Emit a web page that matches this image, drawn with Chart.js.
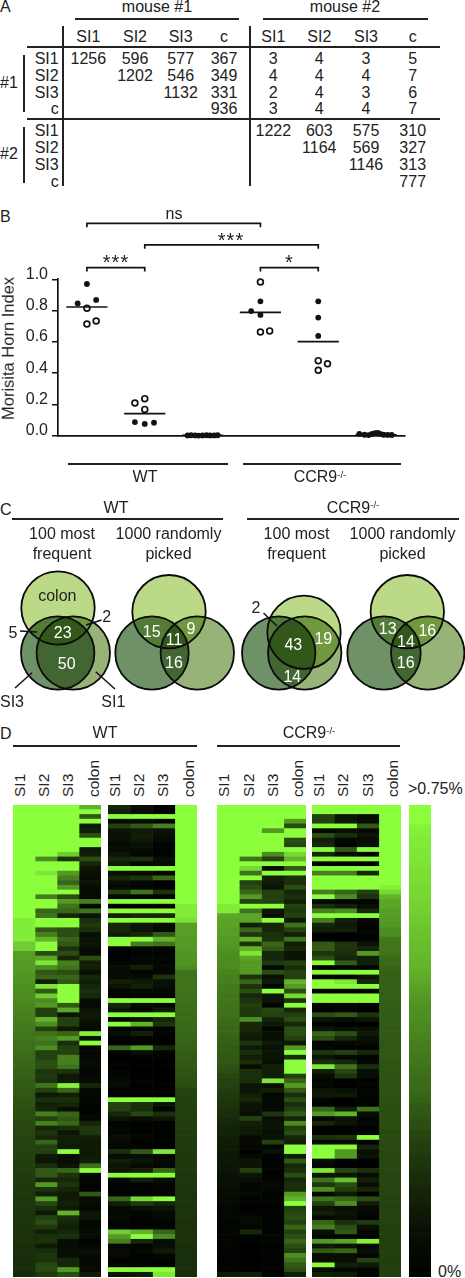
<!DOCTYPE html>
<html><head><meta charset="utf-8">
<script src="https://cdn.jsdelivr.net/npm/chart.js@4"></script>
<style>
html,body{margin:0;padding:0;background:#fff}
#page{position:relative;width:465px;height:1278px;overflow:hidden;font-family:"Liberation Sans",Arial,sans-serif;color:#222}
#page canvas{position:absolute}
.t{position:absolute;white-space:nowrap;line-height:1}
.r{position:absolute;background:#222}
sup{font-size:60%;line-height:0;vertical-align:baseline;position:relative;top:-.45em}
</style></head><body><div id="page"></div>
<script>
/* ---------- Panel A: table ---------- */
const tableCols=['SI1','SI2','SI3','c'];
const m1m1=[['1256','596','577','367'],['','1202','546','349'],['','','1132','331'],['','','','936']];
const m1m2=[['3','4','3','5'],['4','4','4','7'],['2','4','3','6'],['3','4','4','7']];
const m2m2=[['1222','603','575','310'],['','1164','569','327'],['','','1146','313'],['','','','777']];

/* ---------- Panel B: Morisita Horn ---------- */
const bLabels=['SI-SI','SI-c','#1- #2','SI-SI','SI-c','#1- #2'];
const bFilledX=[0,-.16,.16,.83,1,1.16,3,2.84,3,4,4,4,1.74,1.8,1.87,1.93,2,2.07,2.13,2.2,2.26,4.71,4.8,4.87,4.93,4.98,5.03,5.07,5.13,5.2,5.27];
const bFilledY=[.97,.846,.868,.087,.075,.083,.859,.797,.772,.859,.755,.638,.002,.003,.002,.001,.002,.003,.002,.002,.003,.012,.006,.004,.012,.016,.018,.012,.006,.005,.005];
const bOpenX=[0,0,.16,.83,1,1,3,3,3.16,4,4.16,4];
const bOpenY=[.815,.714,.733,.209,.237,.168,.983,.663,.67,.48,.46,.418];
const bMeans=[.823,.141,.003,.789,.601,.006];
const bBrackets=[[0,3,1.358],[1,4,1.22],[0,1,1.075],[3,4,1.075]];

/* ---------- Panel C: Venn counts ---------- */
const vennCircles=[[58,608],[57.7,653],[73.3,653], [169,611.7],[152,653],[197.3,653], [304,632.3],[278.7,653],[304.7,653], [407.3,611.7],[384,653],[427.7,653]];

/* ---------- Panel D: heat map levels (0 = 0%, 100 = >0.75%) ---------- */
const wt100SI1=[100,100,100,100,100,100,100,100,100,100,100,100,100,100,100,100,100,100,100,100,
100,100,100,100,93,93,93,93,93,80,80,62,62,60,60,60,58,58,56,56,
55,54,52,52,50,50,48,48,46,46,44,44,42,42,40,40,38,38,36,36,
34,34,32,32,30,30,30,28,28,28,26,26,26,25,25,24,24,24,23,23,
22,22,22,21,21,21,20,20,20,20,19,19,19,18,18,18,17,17,17,16];
const wt100SI2=[100,100,100,100,100,100,100,100,100,100,100,55,100,100,90,100,100,100,100,50,
100,100,40,45,100,100,35,50,70,100,100,30,65,90,55,35,40,12,90,35,
80,55,60,25,25,70,55,25,45,50,45,55,25,25,30,30,20,22,20,45,
25,10,18,12,15,50,25,50,15,20,15,40,25,25,10,8,18,35,35,15,
60,20,12,60,28,18,10,25,30,22,12,18,20,10,18,20,20,28,28,22];
const wt100SI3=[100,100,100,100,100,100,100,100,100,100,80,20,100,100,60,50,40,60,100,30,
60,45,40,15,100,100,30,30,40,35,20,30,15,50,45,30,40,35,100,100,
100,100,35,65,8,25,25,10,40,60,18,25,25,50,50,45,20,10,10,95,
40,12,18,15,6,40,35,40,18,8,12,12,10,100,5,5,8,40,20,15,
20,15,10,10,12,10,70,18,15,12,15,18,5,5,6,5,15,15,60,30];
const wt100Colon=[70,100,35,100,10,12,30,100,100,10,12,30,15,8,6,5,8,5,4,4,
50,3,45,8,18,22,18,5,8,8,5,4,30,12,12,6,15,12,15,18,
15,5,4,8,10,8,5,4,95,8,100,2,3,4,5,4,3,3,5,15,
3,3,3,2,1,2,3,15,22,22,12,10,10,10,10,12,45,100,3,3,
1,2,35,4,4,3,8,8,3,3,5,4,1,3,6,4,4,4,4,10];
const wtRandSI1=[15,12,100,4,25,8,6,6,4,5,8,15,10,100,6,15,6,4,25,4,
100,1,100,12,100,15,15,10,100,100,0,0,1,3,5,5,5,12,8,2,
0,100,15,8,100,4,100,3,5,1,0,40,2,0,1,1,2,3,4,4,
0,0,100,25,25,15,8,2,3,3,5,4,3,18,5,12,8,8,100,4,
1,1,1,40,12,4,3,4,2,2,80,60,50,3,4,4,1,2,100,8];
const wtRandSI2=[5,5,100,4,35,10,12,10,6,5,3,18,3,100,5,20,3,2,45,2,
100,1,100,15,100,8,8,15,100,50,3,2,3,3,12,2,5,10,12,3,
1,100,4,2,100,8,70,3,12,2,1,60,6,1,0,0,0,1,1,0,
0,0,100,18,18,28,5,1,1,1,2,1,2,35,5,8,4,12,100,12,
1,1,2,85,22,6,2,1,1,1,70,100,15,2,3,1,1,1,100,10];
const wtRandSI3=[0,0,100,2,50,8,6,4,1,1,1,6,4,100,2,40,1,1,20,1,
100,1,100,15,100,4,4,35,70,45,2,2,3,2,3,3,20,6,6,3,
1,100,2,10,100,15,20,2,2,1,1,15,2,1,0,0,0,0,0,0,
0,0,100,8,2,18,8,1,1,1,1,1,1,90,3,4,3,40,100,6,
2,2,2,100,15,8,4,3,2,2,40,55,5,6,10,3,1,1,100,90];
const wtRandColon=[100,100,100,100,100,100,100,100,100,100,100,100,100,100,100,100,100,100,100,100,
100,92,92,92,88,62,62,62,60,60,60,58,58,58,55,45,45,45,45,45,
44,44,43,43,42,42,41,41,40,40,39,38,37,36,35,34,33,32,31,30,
26,26,25,25,25,24,24,24,24,23,23,23,23,22,22,22,22,22,21,21,
21,21,20,20,20,20,20,20,19,19,19,19,19,18,18,18,18,18,18,18];
const ccr100SI1=[100,100,100,100,100,100,100,100,100,100,100,100,100,100,100,100,100,100,100,100,
100,92,92,66,64,64,62,62,60,60,58,56,55,55,54,52,50,50,48,48,
46,46,45,44,44,42,42,40,40,38,38,36,36,35,34,32,30,28,26,25,
24,22,21,20,19,18,16,15,14,13,12,11,10,10,9,9,8,8,7,6,
6,5,5,4,4,3,3,3,2,2,2,2,2,2,1,1,1,1,1,10];
const ccr100SI2=[100,100,100,100,100,100,100,100,100,100,100,45,100,85,45,100,25,30,40,60,
25,100,45,65,65,12,40,22,70,20,70,90,65,60,60,60,20,40,20,30,
15,20,25,22,22,55,15,15,12,10,20,10,18,12,18,5,18,18,18,8,
8,12,15,8,8,6,25,12,10,10,4,4,3,0,4,8,8,25,8,5,
2,3,4,1,1,1,1,4,4,2,15,1,1,0,0,0,0,0,0,12];
const ccr100SI3=[100,100,100,100,100,60,100,100,100,100,55,25,100,5,100,12,10,8,25,25,
25,100,8,5,100,15,15,18,20,40,35,15,15,22,3,30,6,10,2,100,
8,8,3,28,25,14,10,2,6,6,10,6,8,8,6,12,12,12,90,5,
12,3,3,3,3,20,6,8,8,6,6,25,2,6,1,1,1,1,1,2,
4,3,1,1,1,1,1,1,1,1,1,2,2,1,1,1,1,1,1,1];
const ccr100Colon=[100,100,100,60,30,100,100,30,28,100,85,70,100,35,100,18,18,30,15,18,
12,25,22,25,10,45,25,12,45,12,15,8,8,25,18,25,25,70,60,30,
85,20,100,15,25,30,15,30,30,25,10,60,100,18,100,100,100,25,40,60,
35,18,30,18,25,35,15,55,25,30,15,12,100,100,12,35,15,18,30,15,
18,18,60,70,100,25,28,30,25,40,25,30,40,30,25,55,45,35,30,12];
const ccrRandSI1=[100,100,25,25,100,4,30,12,15,100,15,100,1,100,50,100,100,100,50,100,
3,18,50,100,50,15,12,1,1,35,35,20,30,100,2,100,2,100,100,0,
100,100,1,1,30,8,1,8,40,30,2,3,20,8,18,90,12,5,2,2,
8,10,2,1,40,60,3,15,1,1,18,4,100,100,100,5,3,90,8,45,
22,55,4,45,25,8,12,4,40,50,6,2,60,10,35,5,5,100,5,12];
const ccrRandSI2=[100,100,8,10,100,6,18,3,2,35,5,100,1,100,50,100,100,100,40,55,
2,12,55,100,12,10,12,0,0,20,20,18,15,35,2,100,1,90,100,0,
100,100,2,2,35,5,0,6,30,15,3,1,25,3,15,45,28,20,0,0,
6,10,0,0,12,70,8,8,1,1,20,4,100,60,60,0,0,28,8,75,
30,25,10,40,55,6,8,6,18,30,35,2,65,8,40,5,5,12,3,10];
const ccrRandSI3=[100,100,4,5,35,4,8,5,6,100,1,100,0,100,15,100,100,100,25,20,
2,5,15,100,4,2,2,1,1,8,15,60,12,12,1,100,8,15,100,0,
100,100,0,0,20,8,0,6,10,6,4,1,15,2,3,18,6,5,1,1,
2,2,1,1,45,5,2,3,1,1,100,1,15,6,8,0,0,18,5,12,
6,15,1,30,10,4,3,1,22,6,3,0,95,3,6,2,25,10,2,1];
const ccrRandColon=[100,100,100,100,100,100,100,100,100,100,100,100,100,100,100,100,100,95,85,70,
65,65,62,62,60,60,55,55,48,46,46,45,42,42,40,38,38,38,38,38,
37,37,37,36,36,36,36,35,35,35,34,34,34,34,33,33,33,33,32,32,
32,32,31,31,31,30,30,30,30,29,29,29,29,28,28,28,28,28,27,27,
27,27,27,26,26,26,26,26,26,25,25,25,25,25,25,24,24,24,24,24];
const scaleBar=[100,100,100,100,96,94,93,92,92,91,90,90,89,88,88,87,86,85,85,84,
83,82,81,80,79,78,77,76,75,74,74,73,72,71,70,69,68,66,64,62,
60,59,58,57,56,55,54,53,52,51,50,49,48,47,46,45,44,43,42,42,
41,40,38,36,35,34,32,31,30,28,27,26,24,23,22,21,20,19,18,17,
16,15,14,13,12,11,10,9,8,7,6,6,5,4,4,3,2,2,1,1];

/* ---------- helpers ---------- */
const page=document.getElementById('page');
const INK='#222';
function T(html,x,y,o={}){
  const e=document.createElement('div');e.className='t';e.innerHTML=html;
  e.style.left=x+'px';e.style.top=y+'px';e.style.fontSize=(o.size||16)+'px';
  if(o.color)e.style.color=o.color;
  if(o.ls)e.style.letterSpacing=o.ls;
  if(o.a==='r')e.style.transform='translate(-100%,-50%)';
  else if(o.a==='l')e.style.transform='translate(0,-50%)';
  else if(o.a==='up'){e.style.transformOrigin='0 50%';e.style.transform='translate(0,-50%) rotate(-90deg)';}
  else e.style.transform='translate(-50%,-50%)';
  page.appendChild(e);
}
function H(x0,x1,y,w=1.7){const e=document.createElement('div');e.className='r';e.style.cssText=`left:${x0}px;width:${x1-x0}px;top:${y-w/2}px;height:${w}px`;page.appendChild(e);}
function V(x,y0,y1,w=1.7){const e=document.createElement('div');e.className='r';e.style.cssText=`left:${x-w/2}px;width:${w}px;top:${y0}px;height:${y1-y0}px`;page.appendChild(e);}
function canvas(l,t,w,h){const c=document.createElement('canvas');c.width=w;c.height=h;c.style.left=l+'px';c.style.top=t+'px';page.appendChild(c);return c;}
const CCR='CCR9<sup>-/-</sup>';

/* Panel letters */
T('A',0,7,{a:'l'});T('B',0,217,{a:'l'});T('C',0,510,{a:'l'});T('D',0,734,{a:'l'});

/* ---------- Panel A ---------- */
const colX=[88.3,135,180.7,224,273.3,319.3,366,412.7];
const rowY=[59.3,76,93,109.3,131.3,147.7,164.7,181.7];
T('mouse #1',157,6.7);T('mouse #2',345,6.7);
H(75,239,18.7);H(263,428,18.7);
V(63.3,26,186);V(250.3,26,186);
H(27,440,46.7);H(27,440,119);
V(24.3,55,112);V(24.3,127,183);
T('#1',0,83,{a:'l'});T('#2',0,154,{a:'l'});
colX.forEach((x,i)=>T(tableCols[i%4],x,37));
rowY.forEach((y,i)=>T(tableCols[i%4],58.7,y,{a:'r'}));
[0,1,2,3].forEach(r=>[0,1,2,3].forEach(c=>{
  if(m1m1[r][c])T(m1m1[r][c],colX[c],rowY[r]);
  if(m1m2[r][c])T(m1m2[r][c],colX[c+4],rowY[r]);
  if(m2m2[r][c])T(m2m2[r][c],colX[c+4],rowY[r+4]);
}));

/* ---------- Panel B ---------- */
const zip=(a,b)=>a.map((v,i)=>({x:v,y:b[i]}));
const lineDs=pts=>({type:'line',data:pts,borderColor:'#111',borderWidth:1.7,pointRadius:0,fill:false,clip:false,tension:0});
const bDatasets=[
  ...bMeans.map((m,i)=>lineDs([{x:i-.356,y:m},{x:i+.356,y:m}])),
  ...bBrackets.map(b=>lineDs([{x:b[0],y:b[2]-.025},{x:b[0],y:b[2]},{x:b[1],y:b[2]},{x:b[1],y:b[2]-.025}])),
  {type:'scatter',data:zip(bFilledX,bFilledY),backgroundColor:'#111',borderColor:'#111',pointRadius:2.9,borderWidth:0,clip:false},
  {type:'scatter',data:zip(bOpenX,bOpenY),backgroundColor:'#fff',borderColor:'#111',pointRadius:2.9,borderWidth:1.7,clip:false}
];
new Chart(canvas(0,200,465,264),{
  type:'scatter',
  data:{datasets:bDatasets},
  options:{responsive:false,animation:false,devicePixelRatio:1,events:[],
    layout:{padding:{left:0,top:79.3,right:60,bottom:0}},
    plugins:{legend:{display:false},tooltip:{enabled:false}},
    scales:{
      x:{type:'linear',min:-.5,max:5.5,
        afterFit:s=>{s.height=264-235.7;},
        ticks:{stepSize:1,includeBounds:false,autoSkip:false,maxRotation:0,minRotation:0,padding:3,color:INK,
          font:{family:'"Liberation Sans"',size:16},callback:v=>bLabels[v]},
        grid:{display:true,drawOnChartArea:false,drawTicks:true,tickLength:6,color:'#111',lineWidth:1.5},
        border:{color:'#111',width:1.7}},
      y:{type:'linear',min:0,max:1,
        afterFit:s=>{s.width=58;},
        ticks:{stepSize:.2,padding:4,labelOffset:-5,color:INK,font:{family:'"Liberation Sans"',size:16},callback:v=>v.toFixed(1)},
        grid:{display:true,drawOnChartArea:false,drawTicks:true,tickLength:6,color:'#111',lineWidth:1.5},
        border:{color:'#111',width:1.7}}
    }}
});
T('Morisita Horn Index',8,420,{a:'up',size:16.5});
T('ns',174,214);T('***',231,240,{size:20,ls:'1px'});T('***',116,262,{size:20,ls:'1px'});T('*',289,262,{size:20});
H(67.7,227.7,464);H(243,401,464);
T('WT',145,477);T(CCR,320,477);

/* ---------- Panel C ---------- */
T('WT',116,507.5);T(CCR,353,507.5);H(12,223,519.3);H(247,459,519.3);
[[62,'100 most','frequent'],[168.5,'1000 randomly','picked'],[296.5,'100 most','frequent'],[402.5,'1000 randomly','picked']]
 .forEach(h=>{T(h[1],h[0],533.5);T(h[2],h[0],553.5);});
const R=36.7;
const vennFill=['#bbd987','#6e9168','#98b377'];
const vennPts=k=>[0,1,2,3].map(v=>({x:vennCircles[v*3+k][0],y:vennCircles[v*3+k][1],r:R}));
const leaders=[[[20,631],[37,632]],[[101.5,620],[86,625]],[[263.5,613],[277,626]],[[15,688],[32,672.7]],[[115,689],[95.7,671.7]]];
const vennChart=new Chart(canvas(0,560,465,140),{
  type:'bubble',
  data:{datasets:[
    ...leaders.map(l=>({type:'line',data:l.map(p=>({x:p[0],y:p[1]})),borderColor:'#111',borderWidth:1.5,pointRadius:0,clip:false})),
    ...[0,1,2].map(k=>({data:vennPts(k),backgroundColor:'rgba(0,0,0,0)',borderColor:'#0b0b0b',borderWidth:1.8,clip:false})),
    ...[0,1,2].map(k=>({data:vennPts(k),backgroundColor:vennFill[k],borderWidth:0,clip:false,multiply:true}))
  ]},
  options:{responsive:false,animation:false,devicePixelRatio:1,events:[],layout:{padding:0},
    plugins:{legend:{display:false},tooltip:{enabled:false}},
    scales:{x:{type:'linear',min:0,max:465,display:false},y:{type:'linear',min:560,max:700,reverse:true,display:false}}},
  plugins:[{id:'multiply',
    beforeDatasetDraw(c,a){if(c.data.datasets[a.index].multiply){c.ctx.save();c.ctx.globalCompositeOperation='multiply';}},
    afterDatasetDraw(c,a){if(c.data.datasets[a.index].multiply){c.ctx.restore();}}}]
});
/* bubble charts reserve room for the radius: align the hidden scales with the resulting plot area */
{const a=vennChart.chartArea,s=vennChart.options.scales;
 s.x.min=a.left;s.x.max=a.right;s.y.min=560+a.top;s.y.max=560+a.bottom;vennChart.update();}
const W={color:'#fff'};
[['23',62.7,632.7],['50',66.7,664],['15',151.7,631.7],['11',174,640],['9',191,629],['16',174,663.3],
 ['43',293.3,645],['19',323.3,639],['14',292.3,676.7],['13',387.7,629.3],['16',427.3,631],['14',406,641.7],['16',405.7,663.3]]
 .forEach(v=>T(v[0],v[1],v[2],W));
T('colon',57.3,596);T('5',13,632.7);T('2',106.7,617);T('2',256,608.3);T('SI3',12,701.7);T('SI1',113.3,701.7);

/* ---------- Panel D ---------- */
T('WT',105,733);T(CCR,309,733);H(13,197,746);H(217,400,746);
const colNames=['SI1','SI2','SI3','colon'];
[[20,44,68,94],[115,139,163,189],[224,249,273,298],[319,343,368,393]].forEach(xs=>
  xs.forEach((x,i)=>T(colNames[i],x,797,{a:'up',size:15.5})));
T('&gt;0.75%',408,789,{a:'l'});T('0%',438,1272,{a:'l'});
const heatColor=v=>`rgb(${Math.round(140*v/100)},${Math.round(255*v/100)},${Math.round(60*v/100)})`;
function heat(left,width,cols){
  new Chart(canvas(left,805,width,472),{
    type:'bar',
    data:{labels:cols[0].map((_,i)=>i+1),
      datasets:cols.map(vals=>({data:vals.map(()=>1),backgroundColor:vals.map(heatColor),borderWidth:0,barPercentage:1,categoryPercentage:1}))},
    options:{indexAxis:'y',responsive:false,animation:false,devicePixelRatio:1,events:[],layout:{padding:0},
      plugins:{legend:{display:false},tooltip:{enabled:false}},
      scales:{x:{type:'linear',stacked:true,min:0,max:cols.length,display:false},
              y:{type:'category',stacked:true,display:false}}}
  });
}
heat(13,88,[wt100SI1,wt100SI2,wt100SI3,wt100Colon]);
heat(108,89,[wtRandSI1,wtRandSI2,wtRandSI3,wtRandColon]);
heat(217,89,[ccr100SI1,ccr100SI2,ccr100SI3,ccr100Colon]);
heat(312,89,[ccrRandSI1,ccrRandSI2,ccrRandSI3,ccrRandColon]);
heat(409,22,[scaleBar]);
</script></body></html>
